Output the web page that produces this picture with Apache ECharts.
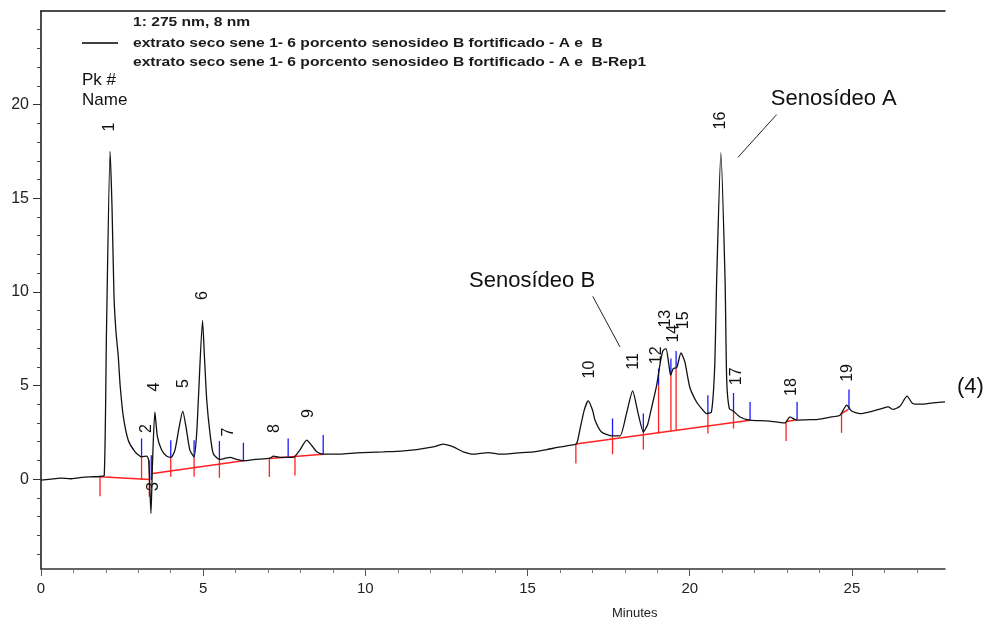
<!DOCTYPE html>
<html lang="pt">
<head>
<meta charset="UTF-8">
<script src="https://cdn.jsdelivr.net/npm/echarts@6/dist/echarts.min.js"></script>
<title>Cromatograma</title>
<style>html,body{margin:0;padding:0;background:#fff;}</style>
</head>
<body>
<div id="main" style="width:994px;height:626px;"></div>
<script type="text/javascript">
var times = [0.00, 0.30, 0.60, 0.90, 1.20, 1.50, 1.82, 1.95, 2.02, 2.13, 2.19, 2.25, 2.31, 2.38, 2.44, 2.54, 2.69, 2.90, 3.10, 3.26, 3.32,
    3.39, 3.44, 3.51, 3.59, 3.72, 3.87, 4.01, 4.13, 4.26, 4.37, 4.47, 4.59, 4.72, 4.80, 4.85, 4.98, 5.04, 5.11, 5.21, 5.31,
    5.50, 5.65, 5.83, 6.03, 6.24, 6.60, 7.06, 7.16, 7.37, 7.78, 7.98, 8.19, 8.34, 8.50, 8.70, 9.22, 9.73, 10.55, 11.10, 11.58,
    12.09, 12.40, 12.71, 13.02, 13.33, 13.79, 14.15, 14.70, 15.18, 15.60, 16.00, 16.30, 16.51, 16.61, 16.75, 16.87, 17.00, 17.08, 17.28, 17.59,
    17.85, 18.05, 18.24, 18.41, 18.57, 18.70, 18.83, 18.98, 19.10, 19.18, 19.27, 19.35, 19.41, 19.49, 19.60, 19.73, 19.85, 20.00, 20.21, 20.40,
    20.52, 20.67, 20.77, 20.83, 20.96, 21.09, 21.14, 21.22, 21.34, 21.55, 21.86, 22.37, 22.93, 23.09, 23.29, 23.71, 23.91, 24.30, 24.63, 24.84,
    24.99, 25.25, 25.66, 25.92, 26.12, 26.27, 26.48, 26.70, 26.87, 27.10, 27.50, 27.87];
var signal = [-0.05, 0.00, 0.05, 0.02, 0.08, 0.12, 0.14, 0.20, 8.00, 17.50, 14.50, 9.80, 7.90, 6.60, 5.00, 3.32, 2.08, 1.46, 1.19, 1.23, 1.01,
    -1.83, 1.00, 3.59, 2.26, 1.55, 1.23, 1.16, 1.55, 2.79, 3.63, 2.79, 1.55, 1.19, 2.45, 4.21, 8.48, 6.50, 4.21, 2.44, 1.37,
    1.05, 1.10, 1.16, 1.05, 0.98, 1.05, 1.12, 1.23, 1.16, 1.16, 1.55, 2.08, 1.81, 1.46, 1.33, 1.33, 1.40, 1.46, 1.50, 1.58,
    1.72, 1.87, 1.72, 1.46, 1.33, 1.42, 1.33, 1.40, 1.46, 1.58, 1.72, 1.80, 1.90, 2.61, 3.70, 4.18, 3.70, 3.15, 2.52, 2.31,
    2.31, 3.50, 4.71, 3.50, 2.52, 2.90, 3.86, 5.01, 6.30, 6.88, 6.97, 6.20, 5.55, 5.90, 5.96, 6.74, 6.26, 4.92, 4.12, 3.70,
    3.50, 3.59, 6.00, 10.60, 17.44, 10.60, 5.28, 3.77, 3.64, 3.32, 3.15, 3.11, 3.00, 3.32, 3.15, 3.18, 3.18, 3.30, 3.41, 3.95,
    3.64, 3.50, 3.64, 3.77, 3.86, 3.72, 3.89, 4.43, 4.04, 4.00, 4.07, 4.12];

// numero do pico e posicao do rotulo (tempo, sinal)
var peakNames = ['1', '2', '3', '4', '5', '6', '7', '8', '9', '10', '11', '12', '13', '14', '15', '16', '17', '18', '19'];
var peakLabelTimes = [2.13, 3.26, 3.46, 3.51, 4.39, 4.98, 5.77, 7.21, 8.24, 16.90, 18.26, 18.98, 19.27, 19.49, 19.80, 20.96, 21.45, 23.14, 24.86];
var peakLabelValues = [18.8, 2.7, -0.4, 4.92, 5.1, 9.81, 2.52, 2.7, 3.5, 5.85, 6.29, 6.61, 8.57, 7.77, 8.48, 19.15, 5.49, 4.92, 5.67];

// linhas de base da integracao [t1, v1, t2, v2]
var baselines = [
    [1.82, 0.12, 3.36, -0.02],
    [3.44, 0.30, 6.24, 0.98],
    [7.04, 1.10, 8.70, 1.33],
    [16.49, 1.87, 21.86, 3.15],
    [22.97, 3.06, 23.31, 3.18],
    [24.68, 3.50, 24.89, 3.72]
];
// marcas de inicio (vermelho) e fim (azul): [t, topo, base]
var startMarks = [[1.82, 0.16, -0.91], [3.10, 1.19, -0.05], [3.34, 1.00, -0.94], [4.00, 1.16, 0.12], [4.72, 1.16, 0.12],
    [5.50, 1.05, 0.07], [7.04, 1.10, 0.12], [7.83, 1.19, 0.20], [16.49, 1.87, 0.84], [17.62, 2.29, 1.33], [18.57, 2.52, 1.58],
    [19.04, 5.01, 2.44], [19.42, 5.55, 2.58], [19.58, 5.90, 2.61], [20.56, 3.47, 2.44], [21.35, 3.64, 2.70], [22.97, 3.06, 2.04],
    [24.68, 3.50, 2.47]];
var endMarks = [[3.10, 2.17, 1.19], [3.40, 1.28, -0.05], [4.00, 2.08, 1.16], [4.72, 2.08, 1.16], [5.50, 2.04, 1.05],
    [6.24, 1.94, 0.98], [7.62, 2.17, 1.19], [8.70, 2.35, 1.33], [17.62, 3.24, 2.29], [18.57, 3.50, 2.52], [19.04, 5.90, 5.01],
    [19.42, 6.44, 5.55], [19.58, 6.84, 5.90], [20.56, 4.48, 3.47], [21.35, 4.60, 3.64], [21.86, 4.12, 3.15], [23.31, 4.12, 3.18],
    [24.91, 4.78, 3.72]];

// eixos
var xMajorTicks = [0, 5, 10, 15, 20, 25];
var xMinorTicks = [1, 2, 3, 4, 6, 7, 8, 9, 11, 12, 13, 14, 16, 17, 18, 19, 21, 22, 23, 24, 26, 27];
var yMajorTicks = [0, 5, 10, 15, 20];
var yMinorTicks = [-4, -3, -2, -1, 1, 2, 3, 4, 6, 7, 8, 9, 11, 12, 13, 14, 16, 17, 18, 19, 21, 22, 23, 24];

// anotacoes: texto em (t, v), seta de (t1, v1) ate (t2, v2)
var callouts = [
    {text: 'Senosídeo A', t: 24.44, v: 20.32, line: [21.49, 17.19, 22.68, 19.47]},
    {text: 'Senosídeo B', t: 15.14, v: 10.56, line: [17.01, 9.76, 17.85, 7.06]}
];

var FONT = '"Liberation Sans", Arial, sans-serif';
var X_MAX = 27.87, Y_MIN = -4.8, Y_MAX = 25;

var trace = times.map(function (t, i) { return [t, signal[i]]; });
var peakLabels = peakNames.map(function (n, i) { return [peakLabelTimes[i], peakLabelValues[i], n]; });

var myChart = echarts.init(document.getElementById('main'));

var axisBase = {type: 'value', min: 0, max: X_MAX, splitLine: {show: false}};

// texto do cabecalho, um pouco esticado na horizontal como no original
function headerText(txt, x, y) {
    return {
        type: 'text', x: x, y: y, scaleX: 1.2,
        style: {text: txt, font: 'bold 13px ' + FONT, fill: '#1a1a1a', verticalAlign: 'middle'}
    };
}

var option = {
    animation: false,
    backgroundColor: '#fff',
    grid: {left: 41, right: 49, top: 11, bottom: 57},
    xAxis: [
        Object.assign({}, axisBase, {
            position: 'bottom',
            axisLine: {onZero: false, lineStyle: {color: '#333', width: 1.5}},
            axisTick: {customValues: xMajorTicks, length: 7, lineStyle: {color: '#555'}},
            axisLabel: {customValues: xMajorTicks, color: '#222', fontSize: 15, fontFamily: FONT, margin: 12}
        }),
        Object.assign({}, axisBase, {
            position: 'bottom',
            axisLine: {show: false, onZero: false},
            axisTick: {customValues: xMinorTicks, length: 4, lineStyle: {color: '#777'}},
            axisLabel: {show: false}
        }),
        Object.assign({}, axisBase, {
            position: 'top',
            axisLine: {onZero: false, lineStyle: {color: '#111', width: 1.5}},
            axisTick: {show: false},
            axisLabel: {show: false}
        })
    ],
    yAxis: [
        {
            type: 'value', min: Y_MIN, max: Y_MAX, position: 'left',
            splitLine: {show: false},
            axisLine: {show: true, onZero: false, lineStyle: {color: '#111', width: 1.5}},
            axisTick: {show: true, customValues: yMajorTicks, length: 8, lineStyle: {color: '#333'}},
            axisLabel: {customValues: yMajorTicks, color: '#222', fontSize: 16, fontFamily: FONT, margin: 12}
        },
        {
            type: 'value', min: Y_MIN, max: Y_MAX, position: 'left',
            splitLine: {show: false},
            axisLine: {show: false, onZero: false},
            axisTick: {show: true, customValues: yMinorTicks, length: 4, lineStyle: {color: '#444'}},
            axisLabel: {show: false}
        }
    ],
    graphic: [
        headerText('1: 275 nm, 8 nm', 133, 22),
        {type: 'line', shape: {x1: 82, y1: 43, x2: 118, y2: 43}, style: {stroke: '#000', lineWidth: 1.5}},
        headerText('extrato seco sene 1- 6 porcento senosideo B fortificado - A e  B', 133, 43),
        headerText('extrato seco sene 1- 6 porcento senosideo B fortificado - A e  B-Rep1', 133, 62),
        {type: 'text', left: 82, top: 72, style: {text: 'Pk #', font: '17px ' + FONT, fill: '#111'}},
        {type: 'text', left: 82, top: 92, style: {text: 'Name', font: '17px ' + FONT, fill: '#111'}},
        {type: 'text', left: 957, top: 376, style: {text: '(4)', font: '22px ' + FONT, fill: '#111'}},
        {type: 'text', left: 612, top: 607, style: {text: 'Minutes', font: '13px ' + FONT, fill: '#222'}}
    ],
    series: [
        {
            // linhas de base
            type: 'custom', xAxisIndex: 0, yAxisIndex: 0, silent: true, z: 3,
            data: baselines,
            renderItem: function (params, api) {
                var a = api.coord([api.value(0), api.value(1)]);
                var b = api.coord([api.value(2), api.value(3)]);
                return {type: 'line', shape: {x1: a[0], y1: a[1], x2: b[0], y2: b[1]}, style: {stroke: '#ff2020', lineWidth: 1.5}};
            }
        },
        {
            type: 'custom', xAxisIndex: 0, yAxisIndex: 0, silent: true, z: 4,
            data: startMarks,
            renderItem: function (params, api) {
                var a = api.coord([api.value(0), api.value(1)]);
                var b = api.coord([api.value(0), api.value(2)]);
                return {type: 'line', shape: {x1: a[0], y1: a[1], x2: b[0], y2: b[1]}, style: {stroke: '#ff2020', lineWidth: 1.3}};
            }
        },
        {
            type: 'custom', xAxisIndex: 0, yAxisIndex: 0, silent: true, z: 4,
            data: endMarks,
            renderItem: function (params, api) {
                var a = api.coord([api.value(0), api.value(1)]);
                var b = api.coord([api.value(0), api.value(2)]);
                return {type: 'line', shape: {x1: a[0], y1: a[1], x2: b[0], y2: b[1]}, style: {stroke: '#1a1aff', lineWidth: 1.3}};
            }
        },
        {
            // cromatograma
            type: 'line', xAxisIndex: 0, yAxisIndex: 0, z: 5,
            data: trace,
            showSymbol: false,
            smooth: 0.2,
            lineStyle: {color: '#111', width: 1.3}
        },
        {
            // numeros dos picos
            type: 'custom', xAxisIndex: 0, yAxisIndex: 0, silent: true, z: 6,
            data: peakLabels,
            renderItem: function (params, api) {
                var p = api.coord([api.value(0), api.value(1)]);
                return {
                    type: 'text', x: p[0], y: p[1], rotation: Math.PI / 2,
                    style: {text: peakNames[params.dataIndex], font: '16px ' + FONT, fill: '#111', align: 'center', verticalAlign: 'middle'}
                };
            }
        },
        {
            // anotacoes
            type: 'custom', xAxisIndex: 0, yAxisIndex: 0, silent: true, z: 6,
            data: callouts.map(function (c) { return [c.t, c.v]; }),
            renderItem: function (params, api) {
                var c = callouts[params.dataIndex];
                var p = api.coord([c.t, c.v]);
                var a = api.coord([c.line[0], c.line[1]]);
                var b = api.coord([c.line[2], c.line[3]]);
                return {
                    type: 'group',
                    children: [
                        {type: 'text', x: p[0], y: p[1], style: {text: c.text, font: '22px ' + FONT, fill: '#111', align: 'center', verticalAlign: 'middle'}},
                        {type: 'line', shape: {x1: a[0], y1: a[1], x2: b[0], y2: b[1]}, style: {stroke: '#222', lineWidth: 1}}
                    ]
                };
            }
        }
    ]
};
myChart.setOption(option);
</script>
</body>
</html>
